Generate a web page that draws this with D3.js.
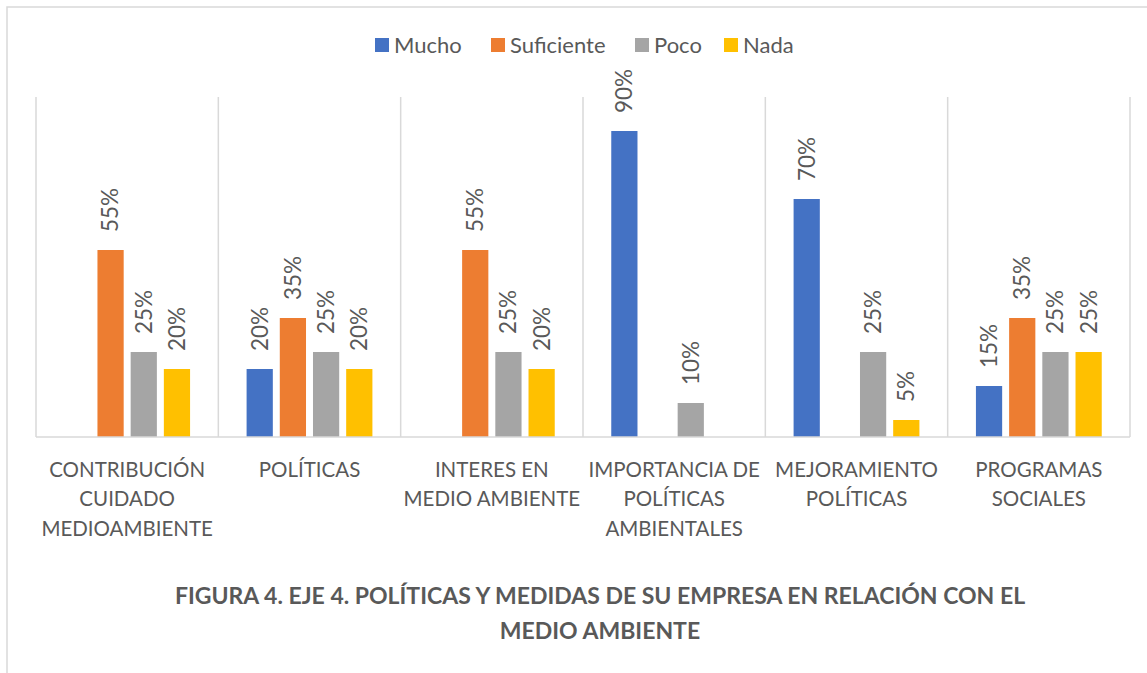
<!DOCTYPE html>
<html>
<head>
<meta charset="utf-8">
<script src="https://cdn.jsdelivr.net/npm/d3@7"></script>
<style>
  body { margin: 0; background: #fff; }
  svg { display: block; font-family: Lato, "Open Sans", sans-serif; }
</style>
</head>
<body>
<svg id="chart" width="1147" height="673"></svg>
<script>
// categories (line breaks as Excel wrapped them)
var categories = [
  "CONTRIBUCIÓN\nCUIDADO\nMEDIOAMBIENTE",
  "POLÍTICAS",
  "INTERES EN\nMEDIO AMBIENTE",
  "IMPORTANCIA DE\nPOLÍTICAS\nAMBIENTALES",
  "MEJORAMIENTO\nPOLÍTICAS",
  "PROGRAMAS\nSOCIALES"
];
var seriesNames = ["Mucho", "Suficiente", "Poco", "Nada"];
var seriesColors = ["#4472c4", "#ed7d31", "#a5a5a5", "#ffc000"];
// null = no bar shown
var mucho      = [null, 0.20, null, 0.90, 0.70, 0.15];
var suficiente = [0.55, 0.35, 0.55, null, null, 0.35];
var poco       = [0.25, 0.25, 0.25, 0.10, 0.25, 0.25];
var nada       = [0.20, 0.20, 0.20, null, 0.05, 0.25];
var titleLines = [
  "FIGURA 4. EJE 4. POLÍTICAS Y MEDIDAS DE SU EMPRESA EN RELACIÓN CON EL",
  "MEDIO AMBIENTE"
];

var seriesValues = [mucho, suficiente, poco, nada];
var textColor = "#595959";
var gridColor = "#d9d9d9";

const svg = d3.select("#chart");
var width = 1147, height = 673;

// chart area border (runs off the right / bottom edge in the original)
svg.append("rect")
  .attr("x", 7).attr("y", 7)
  .attr("width", width).attr("height", height)
  .attr("fill", "#fff")
  .attr("stroke", gridColor)
  .attr("stroke-width", 1.5);

var plot = { left: 36, right: 1130, top: 97, bottom: 437 };

var x0 = d3.scaleBand()
  .domain(categories)
  .range([plot.left, plot.right])
  .padding(0);

var bw = x0.bandwidth();
var x1 = d3.scaleBand()
  .domain(seriesNames)
  .range([bw * 0.155, bw * 0.845])
  .paddingInner(0.21)
  .paddingOuter(0);

var y = d3.scaleLinear()
  .domain([0, 1])
  .range([plot.bottom, plot.top]);

// vertical separators between categories
var bounds = categories.map(function(c) { return x0(c); }).concat([plot.right]);
svg.append("g")
  .selectAll("line")
  .data(bounds)
  .enter().append("line")
  .attr("x1", function(d) { return d; })
  .attr("x2", function(d) { return d; })
  .attr("y1", plot.top)
  .attr("y2", plot.bottom)
  .attr("stroke", gridColor)
  .attr("stroke-width", 1.5);

// flatten data
var rows = [];
categories.forEach(function(c, i) {
  seriesNames.forEach(function(s, j) {
    var v = seriesValues[j][i];
    if (v != null) rows.push({ cat: c, series: s, value: v, color: seriesColors[j] });
  });
});

var bars = svg.append("g");
bars.selectAll("rect")
  .data(rows)
  .enter().append("rect")
  .attr("x", function(d) { return x0(d.cat) + x1(d.series); })
  .attr("y", function(d) { return y(d.value); })
  .attr("width", x1.bandwidth())
  .attr("height", function(d) { return y(0) - y(d.value); })
  .attr("fill", function(d) { return d.color; });

// rotated value labels
bars.selectAll("text")
  .data(rows)
  .enter().append("text")
  .attr("transform", function(d) {
    var cx = x0(d.cat) + x1(d.series) + x1.bandwidth() / 2;
    return "translate(" + cx + "," + (y(d.value) - 18) + ") rotate(-90)";
  })
  .attr("dy", "0.35em")
  .attr("fill", textColor)
  .style("font-size", "22.5px")
  .text(function(d) { return d3.format(".0%")(d.value); });

// baseline
svg.append("line")
  .attr("x1", plot.left).attr("x2", plot.right)
  .attr("y1", plot.bottom).attr("y2", plot.bottom)
  .attr("stroke", gridColor)
  .attr("stroke-width", 1.5);

// category labels
var catG = svg.append("g")
  .selectAll("text")
  .data(categories)
  .enter().append("text")
  .attr("text-anchor", "middle")
  .attr("fill", textColor)
  .style("font-size", "20.5px");
catG.each(function(c) {
  var t = d3.select(this);
  c.split("\n").forEach(function(line, k) {
    t.append("tspan")
      .attr("x", x0(c) + bw / 2)
      .attr("y", 477 + k * 29.3)
      .text(line);
  });
});

// legend
var legendX = [375, 491, 635, 724];
var legend = svg.append("g")
  .selectAll("g")
  .data(seriesNames)
  .enter().append("g")
  .attr("transform", function(d, i) { return "translate(" + legendX[i] + ",38)"; });
legend.append("rect")
  .attr("width", 14).attr("height", 14)
  .attr("fill", function(d, i) { return seriesColors[i]; });
legend.append("text")
  .attr("x", 19).attr("y", 14.5)
  .attr("fill", textColor)
  .style("font-size", "22px")
  .text(function(d) { return d; });

// title
svg.append("g")
  .selectAll("text")
  .data(titleLines)
  .enter().append("text")
  .attr("x", 600)
  .attr("y", function(d, i) { return 604 + i * 35; })
  .attr("text-anchor", "middle")
  .attr("fill", textColor)
  .style("font-size", "23px")
  .style("font-weight", "bold")
  .text(function(d) { return d; });
</script>
</body>
</html>
